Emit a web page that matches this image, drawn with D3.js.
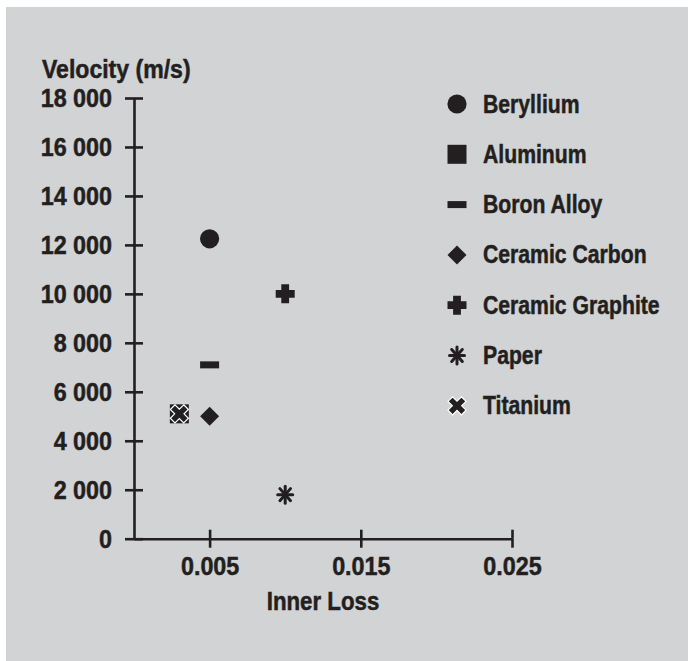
<!DOCTYPE html>
<html>
<head>
<meta charset="utf-8">
<script src="https://cdn.jsdelivr.net/npm/d3@7"></script>
<style>
  body { margin: 0; background: #fff; }
  svg text { font-family: "Liberation Sans", Arial, sans-serif; font-weight: bold; fill: #231f20; stroke: #231f20; stroke-width: 0.5px; }
</style>
</head>
<body>
<svg id="chart" width="688" height="661"></svg>
<script>
// data
var materials = ['Beryllium', 'Aluminum', 'Boron Alloy', 'Ceramic Carbon', 'Ceramic Graphite', 'Paper', 'Titanium'];
var markers   = ['circle', 'square', 'dash', 'diamond', 'plus', 'asterisk', 'cross'];
var innerLoss = [0.005, 0.003, 0.005, 0.005, 0.010, 0.010, 0.003];
var velocity  = [12250, 5100, 7100, 5000, 10000, 1800, 5100];
var xTicks = [0.005, 0.015, 0.025];
var yTicks = [0, 2000, 4000, 6000, 8000, 10000, 12000, 14000, 16000, 18000];

var ink = '#231f20';
var fs = 26.5;   // condensed look: squeeze Liberation Sans Bold horizontally
var svg = d3.select('#chart');

svg.append('rect')
    .attr('x', 6).attr('y', 7)
    .attr('width', 682).attr('height', 654)
    .attr('fill', '#d1d3d4');

var x = d3.scaleLinear().domain([0, 0.025]).range([134, 512]);
var y = d3.scaleLinear().domain([0, 18000]).range([538.7, 98]);

var spaced = d3.formatLocale({ decimal: '.', thousands: ' ', grouping: [3], currency: ['', ''] }).format(',');

// y axis, ticks cross the line
var yAxis = svg.append('g')
    .attr('transform', 'translate(' + x(0) + ',0)')
    .call(d3.axisLeft(y).tickValues(yTicks).tickSize(9).tickSizeOuter(0).tickPadding(16).tickFormat(spaced));
yAxis.selectAll('.tick').append('line').attr('x2', 9);

// x axis
var xAxis = svg.append('g')
    .attr('transform', 'translate(0,' + y(0) + ')')
    .call(d3.axisBottom(x).tickValues(xTicks).tickSize(9).tickSizeOuter(0).tickPadding(8).tickFormat(d3.format('.3f')));
xAxis.selectAll('.tick').append('line').attr('y2', -9);

svg.selectAll('.domain, .tick line').attr('stroke', ink).attr('stroke-width', 2.6);
svg.selectAll('.tick text')
    .attr('font-size', fs).attr('font-family', null).attr('fill', ink)
    .attr('transform', 'scale(0.88,1)');

function label(tx, ty, sx, anchor, str) {
    svg.append('g')
        .attr('transform', 'translate(' + tx + ',' + ty + ') scale(' + sx + ',1)')
        .append('text')
        .attr('text-anchor', anchor)
        .attr('font-size', fs)
        .text(str);
}

label(42, 78, 0.87, 'start', 'Velocity (m/s)');
label((x.range()[0] + x.range()[1]) / 2, 610, 0.84, 'middle', 'Inner Loss');

function drawMarker(g, type) {
    if (type == 'circle') {
        g.append('circle').attr('r', 9.6).attr('fill', ink);
    } else if (type == 'square') {
        g.append('rect').attr('x', -9.5).attr('y', -9.5).attr('width', 19).attr('height', 19).attr('fill', ink);
    } else if (type == 'dash') {
        g.append('rect').attr('x', -9.5).attr('y', -3.5).attr('width', 19).attr('height', 7).attr('fill', ink);
    } else if (type == 'diamond') {
        g.append('path').attr('d', 'M0,-9.5L9.5,0L0,9.5L-9.5,0Z').attr('fill', ink);
    } else if (type == 'plus') {
        var a = 9.5, w = 3.9;
        g.append('path')
            .attr('d', 'M' + -w + ',' + -a + 'H' + w + 'V' + -w + 'H' + a + 'V' + w + 'H' + w + 'V' + a + 'H' + -w + 'V' + w + 'H' + -a + 'V' + -w + 'H' + -w + 'Z')
            .attr('fill', ink);
    } else if (type == 'asterisk') {
        for (var k = 0; k < 8; k++) {
            var ang = k * Math.PI / 4;
            g.append('line')
                .attr('x1', 0).attr('y1', 0)
                .attr('x2', 7.5 * Math.sin(ang)).attr('y2', -8.5 * Math.cos(ang))
                .attr('stroke', ink).attr('stroke-width', 3).attr('stroke-linecap', 'round');
        }
    } else if (type == 'cross') {
        var b = 9.5, v = 3.3;
        g.append('path')
            .attr('d', 'M' + -v + ',' + -b + 'H' + v + 'V' + -v + 'H' + b + 'V' + v + 'H' + v + 'V' + b + 'H' + -v + 'V' + v + 'H' + -b + 'V' + -v + 'H' + -v + 'Z')
            .attr('transform', 'rotate(45)')
            .attr('fill', ink).attr('stroke', '#fff').attr('stroke-width', 1.2);
    }
}

// points
materials.forEach(function (m, i) {
    var g = svg.append('g').attr('transform', 'translate(' + x(innerLoss[i]) + ',' + y(velocity[i]) + ')');
    drawMarker(g, markers[i]);
});

// legend
materials.forEach(function (m, i) {
    var ly = 104 + i * 50.3;
    var g = svg.append('g').attr('transform', 'translate(457,' + ly + ')');
    drawMarker(g, markers[i]);
    label(483, ly + 8.5, 0.80, 'start', m);
});
</script>
</body>
</html>
